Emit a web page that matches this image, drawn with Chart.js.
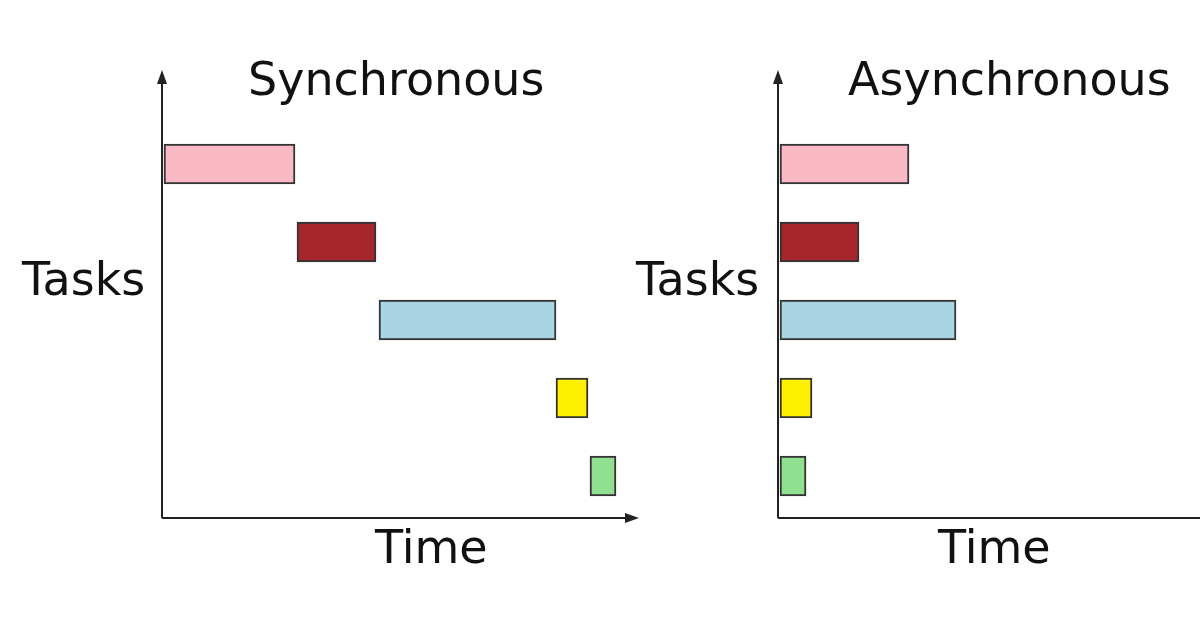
<!DOCTYPE html>
<html>
<head>
<meta charset="utf-8">
<script src="https://cdn.jsdelivr.net/npm/chart.js@4"></script>
<style>
  html, body { margin: 0; padding: 0; background: #fff; overflow: hidden; width: 1200px; height: 628px; }
  .panel { position: absolute; top: 0; width: 640px; height: 628px; }
  .lbl { position: absolute; font-family: "DejaVu Sans", sans-serif; font-size: 46px; color: #111; white-space: nowrap; }
</style>
</head>
<body>
<div class="panel" style="left:0"><canvas id="syncChart" width="640" height="628"></canvas></div>
<div class="panel" style="left:616px"><canvas id="asyncChart" width="640" height="628"></canvas></div>
<div class="lbl" style="left:248px; top:52px">Synchronous</div>
<div class="lbl" style="left:848px; top:52px">Asynchronous</div>
<div class="lbl" style="left:22px; top:252px">Tasks</div>
<div class="lbl" style="left:636px; top:252px">Tasks</div>
<div class="lbl" style="left:375px; top:520px">Time</div>
<div class="lbl" style="left:938px; top:520px">Time</div>
<script>
// tasks, top to bottom
const tasks = ["Task 1", "Task 2", "Task 3", "Task 4", "Task 5"];
const taskColors = ["#f8b9c5", "#a6272b", "#a8d3e3", "#fff000", "#90e090"];
// start/end in time units
const syncTimes = [[2, 133], [135, 214], [217, 394], [394, 426], [428, 454]];
const asyncTimes = [[2, 131], [2, 81], [2, 178], [2, 34], [2, 28]];

const axisArrows = {
  id: "axisArrows",
  afterDraw(chart) {
    const { ctx, chartArea } = chart;
    const x0 = chartArea.left, y0 = chartArea.bottom + 3;
    ctx.save();
    ctx.strokeStyle = "#222";
    ctx.fillStyle = "#222";
    ctx.lineWidth = 2;
    ctx.beginPath();
    ctx.moveTo(x0, y0); ctx.lineTo(x0, 76);
    ctx.moveTo(x0, y0); ctx.lineTo(chartArea.right, y0);
    ctx.stroke();
    ctx.beginPath();
    ctx.moveTo(x0, 70); ctx.lineTo(x0 - 5, 84); ctx.lineTo(x0 + 5, 84); ctx.closePath();
    ctx.moveTo(chartArea.right + 4, y0); ctx.lineTo(chartArea.right - 10, y0 - 5); ctx.lineTo(chartArea.right - 10, y0 + 5); ctx.closePath();
    ctx.fill();
    ctx.restore();
  }
};

function makeChart(id, times, maxT) {
  return new Chart(document.getElementById(id), {
    type: "bar",
    data: {
      labels: tasks,
      datasets: [{
        data: times,
        backgroundColor: taskColors,
        borderColor: "#333",
        borderWidth: 2,
        borderSkipped: false,
        barThickness: 40
      }]
    },
    options: {
      indexAxis: "y",
      responsive: false,
      animation: false,
      layout: { padding: { left: 162, right: 5, top: 125, bottom: 113 } },
      plugins: { legend: { display: false }, tooltip: { enabled: false } },
      scales: {
        x: { display: false, min: 0, max: maxT },
        y: { display: false }
      }
    },
    plugins: [axisArrows]
  });
}

makeChart("syncChart", syncTimes, 473);
makeChart("asyncChart", asyncTimes, 473);
</script>
</body>
</html>
